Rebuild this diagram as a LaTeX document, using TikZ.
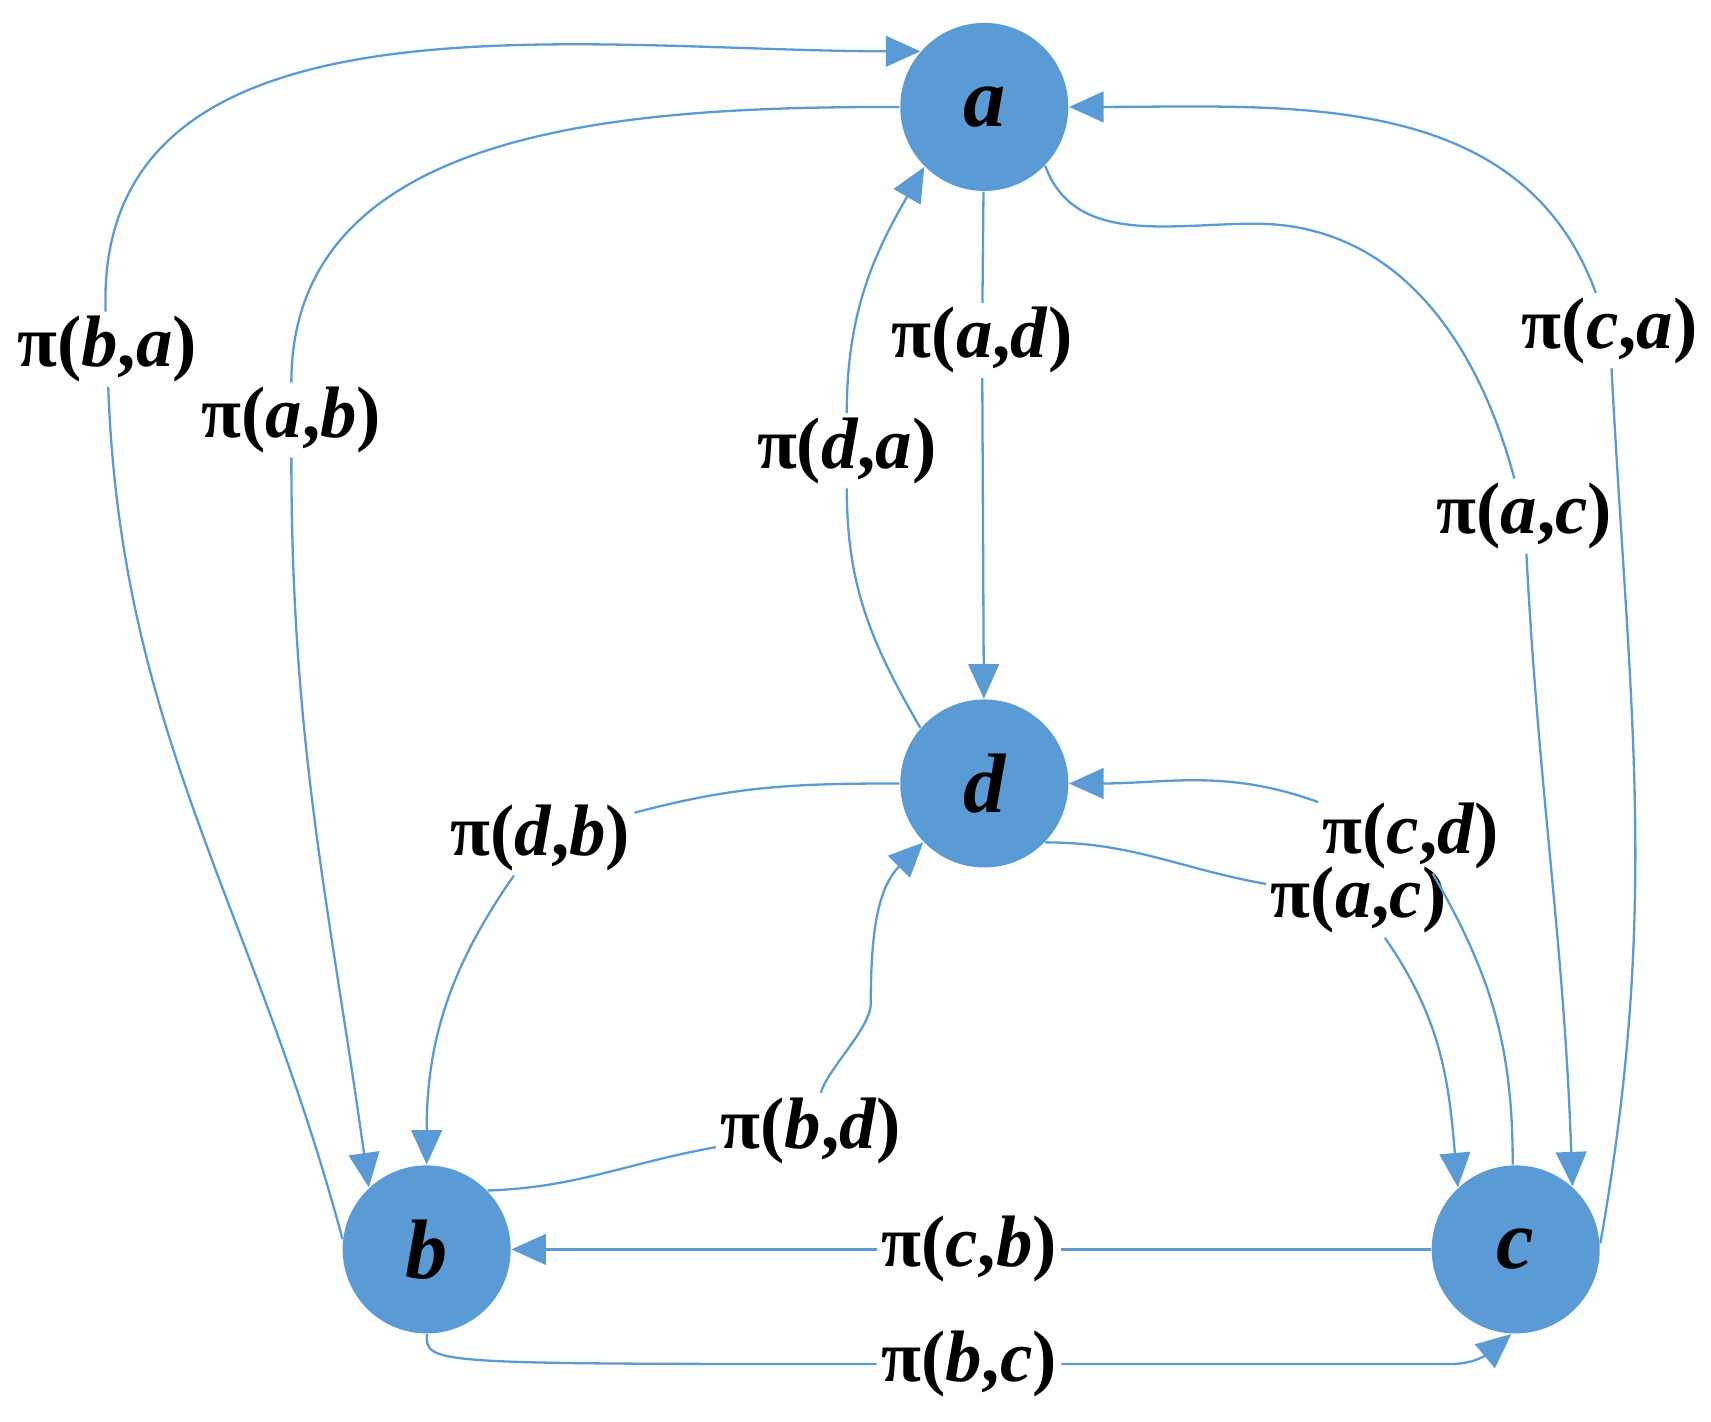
\documentclass[tikz,border=0pt]{standalone}
\usepackage{fontspec}
\setmainfont{Liberation Serif}
\usetikzlibrary{arrows.meta}
\definecolor{nb}{RGB}{91,155,213}
\begin{document}
\begin{tikzpicture}[
  st/.style={circle,fill=nb,minimum size=1.54cm,inner sep=0pt,font=\fontsize{22}{24}\selectfont\bfseries\itshape},
  lb/.style={inner sep=1pt,font=\fontsize{19}{22}\selectfont\bfseries},
  e/.style={draw=nb,line width=0.6pt},
  ar/.style={e,-{Triangle[length=9pt,width=8pt]}}]
\useasboundingbox (0,0) rectangle (15.68,-13.03);
\node[st] (a) at (9.02,-0.98) {a};
\node[st] (d) at (9.02,-7.18) {d};
\node[st] (b) at (3.91,-11.45) {b};
\node[st] (c) at (13.89,-11.45) {c};
\newcommand{\pl}[2]{π(\textit{#1},\textit{#2})}
\node[lb] (lba) at (0.98,-3.20) {\pl{b}{a}};
\node[lb] (lab) at (2.67,-3.85) {\pl{a}{b}};
\node[lb] (lad) at (9.00,-3.12) {\pl{a}{d}};
\node[lb] (lda) at (7.76,-4.13) {\pl{d}{a}};
\node[lb] (lca) at (14.75,-3.03) {\pl{c}{a}};
\node[lb] (lac) at (13.97,-4.73) {\pl{a}{c}};
\node[lb] (ldb) at (4.95,-7.68) {\pl{d}{b}};
\node[lb] (lbd) at (7.43,-10.36) {\pl{b}{d}};
\node[lb] (lcd) at (12.93,-7.66) {\pl{c}{d}};
\node[lb] (lacb) at (12.45,-8.25) {\pl{a}{c}};
\node[lb] (lcb) at (8.88,-11.45) {\pl{c}{b}};
\node[lb] (lbc) at (8.88,-12.50) {\pl{b}{c}};
\coordinate (m1) at (11.5,-2.05);
\coordinate (m2) at (7.98,-9.2);
% b -> a
\draw[e] (b.173) to[out=105,in=-88] (lba);
\draw[ar] (lba) to[out=92,in=180] (a.139);
% a -> b
\draw[e] (a.180) to[out=180,in=90] (lab);
\draw[ar] (lab) to[out=-90,in=98] (b.133);
% a -> d
\draw[e] (a) -- (lad);
\draw[ar] (lad) -- (d);
% d -> a
\draw[e] (d.139) to[out=120,in=-90] (lda);
\draw[ar] (lda) to[out=90,in=-120] (a.225);
% c -> a
\draw[e] (c.4) to[out=80,in=-87] (lca);
\draw[ar] (lca) to[out=110,in=0] (a.0);
% a -> c
\draw[e] (a.-44) to[out=-70,in=180] (m1) to[out=0,in=105] (lac);
\draw[ar] (lac) to[out=-87,in=92] (c.48);
% d -> b
\draw[e] (d.180) to[out=180,in=15] (ldb);
\draw[ar] (ldb) to[out=-125,in=90] (b.90);
% b -> d
\draw[e] (b.44) to[out=2,in=190] (lbd);
\draw[ar] (lbd) to[out=75,in=-90,looseness=0.6] (m2) to[out=90,in=-135] (d.224);
% c -> d
\draw[e] (c.92) to[out=90,in=-60] (lcd);
\draw[ar] (lcd) to[out=160,in=0] (d.0);
% d -> c
\draw[e] (d.-44) to[out=0,in=170] (lacb);
\draw[ar] (lacb) to[out=-55,in=95] (c.133);
% c -> b
\draw[e] (c) -- (lcb);
\draw[ar] (lcb) -- (b);
% b -> c
\draw[e] (b.-90) .. controls (3.91,-12.5) .. (lbc.west);
\draw[ar] (lbc.east) -- (13.3,-12.5) to[out=0,in=-140] (c.-93);
\end{tikzpicture}
\end{document}
